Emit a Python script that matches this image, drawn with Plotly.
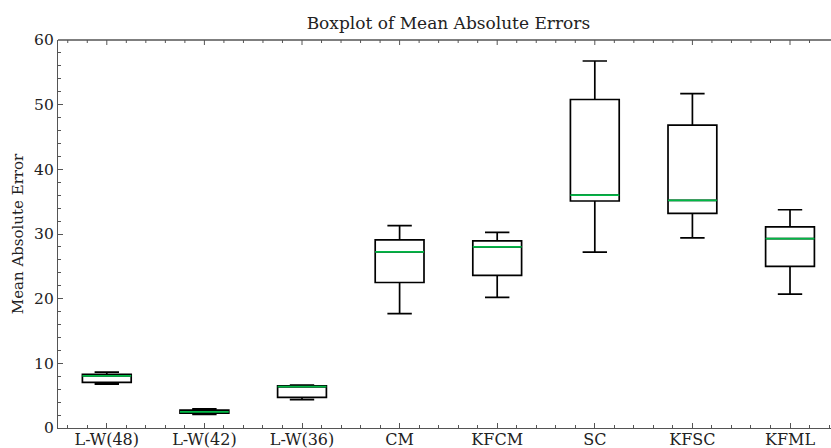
import plotly.graph_objects as go

categories = ["L-W(48)", "L-W(42)", "L-W(36)", "CM", "KFCM", "SC", "KFSC", "KFML"]
lower_whisker = [6.8, 2.1, 4.4, 17.7, 20.2, 27.2, 29.4, 20.7]
q1_values = [7.05, 2.3, 4.75, 22.5, 23.6, 35.1, 33.2, 25.0]
median_values = [8.05, 2.5, 6.4, 27.25, 28.0, 36.0, 35.2, 29.3]
q3_values = [8.3, 2.75, 6.5, 29.1, 28.95, 50.8, 46.85, 31.1]
upper_whisker = [8.65, 2.95, 6.65, 31.3, 30.25, 56.75, 51.7, 33.75]
y_ticks = [0, 10, 20, 30, 40, 50, 60]

positions = list(range(1, len(categories) + 1))
font_family = "DejaVu Serif"
x_range = [0.5, 8.42]
# minor tick positions for the top spine (every 0.2, skipping majors, inside the range)
top_minor = [round(0.2 * k, 1) for k in range(3, 42) if k % 5 != 0]

fig = go.Figure()
fig.add_trace(go.Box(
    x=positions,
    q1=q1_values,
    median=median_values,
    q3=q3_values,
    lowerfence=lower_whisker,
    upperfence=upper_whisker,
    width=0.5,
    whiskerwidth=0.5,
    line=dict(color="black", width=1.7),
    fillcolor="rgba(255,255,255,0)",
    boxpoints=False,
    hoverinfo="skip",
    showlegend=False,
))
fig.add_trace(go.Box(
    x=positions,
    q1=median_values,
    median=median_values,
    q3=median_values,
    lowerfence=median_values,
    upperfence=median_values,
    width=0.5,
    whiskerwidth=0,
    line=dict(color="#00B945", width=1.7),
    fillcolor="rgba(255,255,255,0)",
    boxpoints=False,
    hoverinfo="skip",
    showlegend=False,
))

axis_color = "#555555"
tick_common = dict(
    ticks="inside",
    ticklen=5,
    tickwidth=1,
    tickcolor=axis_color,
    showgrid=False,
    zeroline=False,
    linecolor=axis_color,
    linewidth=1.3,
    automargin=False,
)

# top spine with inward ticks, drawn as shapes
top_shapes = [dict(
    type="line", xref="paper", yref="paper", x0=0, x1=1, y0=1, y1=1,
    line=dict(color=axis_color, width=1.3), layer="above",
)]
for p in positions:
    top_shapes.append(dict(
        type="line", xref="x", yref="paper", ysizemode="pixel", yanchor=1,
        x0=p, x1=p, y0=0, y1=-5, line=dict(color=axis_color, width=1), layer="above",
    ))
for p in top_minor:
    top_shapes.append(dict(
        type="line", xref="x", yref="paper", ysizemode="pixel", yanchor=1,
        x0=p, x1=p, y0=0, y1=-3, line=dict(color=axis_color, width=1), layer="above",
    ))

fig.update_layout(
    width=831,
    height=448,
    margin=dict(l=58, r=0, t=40, b=20),
    paper_bgcolor="white",
    plot_bgcolor="white",
    boxmode="overlay",
    font=dict(family=font_family, color="#222222", size=15),
    title=dict(
        text="Boxplot of Mean Absolute Errors",
        x=0.5 * (58 + 838.8) / 831,
        xanchor="center",
        y=1 - 29 / 448,
        yanchor="bottom",
        font=dict(family=font_family, size=17, color="#222222"),
        pad=dict(b=0),
    ),
    xaxis=dict(
        range=x_range,
        tickmode="array",
        tickvals=positions,
        ticktext=categories,
        showline=True,
        mirror=False,
        ticklabelstandoff=-3,
        tickfont=dict(size=16, family=font_family, color="#222222"),
        minor=dict(dtick=0.2, tick0=0, ticks="inside", ticklen=3, tickwidth=1, tickcolor=axis_color, showgrid=False),
        **tick_common,
    ),
    yaxis=dict(
        range=[0, 60],
        tickmode="array",
        tickvals=y_ticks,
        showline=True,
        mirror=False,
        tickfont=dict(size=15.5, family=font_family, color="#222222"),
        title=dict(text="Mean Absolute Error", font=dict(size=15, family=font_family, color="#222222"), standoff=6),
        minor=dict(dtick=2, tick0=0, ticks="inside", ticklen=3, tickwidth=1, tickcolor=axis_color, showgrid=False),
        **tick_common,
    ),
    shapes=top_shapes,
)

# keep the page from scrolling, and drop any stray full-height edge stroke at the cropped right side
post_script = """
(function(){
  document.documentElement.style.overflow = 'hidden';
  document.body.style.overflow = 'hidden';
  document.body.style.margin = '0';
  var gd = document.getElementById('{plot_id}');
  var els = gd.querySelectorAll('svg path, svg line, svg rect');
  els.forEach(function(el){
    var r = el.getBoundingClientRect();
    if (r.width < 4 && r.height > 300 && r.left > 820) { el.style.visibility = 'hidden'; }
  });
})();
"""

fig.write_html("out.html", post_script=post_script)
